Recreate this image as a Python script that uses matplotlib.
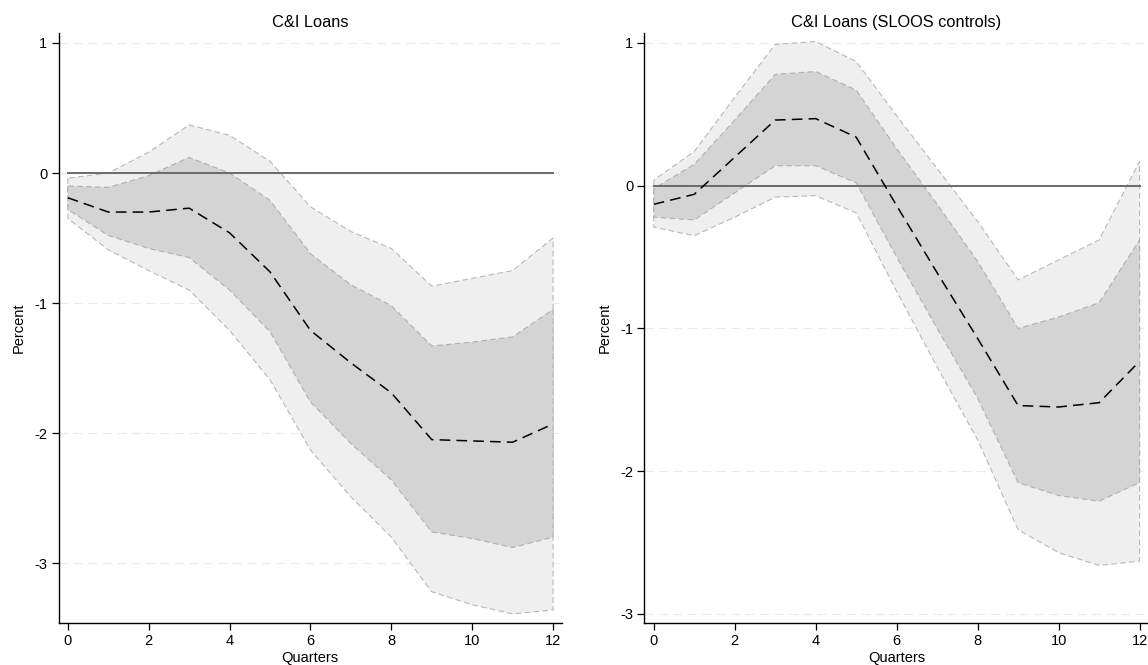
import matplotlib
matplotlib.use('Agg')
import matplotlib.pyplot as plt
import numpy as np

plt.rcParams['font.family'] = ['Liberation Sans', 'DejaVu Sans']
plt.rcParams['font.size'] = 10.5

#%% data
quarters = np.arange(13)

# C&I Loans
irf_l    = [-0.19, -0.30, -0.30, -0.27, -0.46, -0.76, -1.21, -1.46, -1.69, -2.05, -2.06, -2.07, -1.93]
in_hi_l  = [-0.10, -0.11, -0.02, 0.12, 0.00, -0.21, -0.62, -0.86, -1.02, -1.33, -1.30, -1.26, -1.05]
in_lo_l  = [-0.28, -0.48, -0.58, -0.65, -0.90, -1.22, -1.76, -2.08, -2.36, -2.76, -2.81, -2.88, -2.80]
out_hi_l = [-0.04, 0.00, 0.16, 0.37, 0.29, 0.09, -0.26, -0.45, -0.58, -0.87, -0.81, -0.75, -0.50]
out_lo_l = [-0.35, -0.59, -0.75, -0.90, -1.21, -1.59, -2.13, -2.49, -2.80, -3.22, -3.32, -3.39, -3.36]

# C&I Loans (SLOOS controls)
irf_r    = [-0.13, -0.06, 0.20, 0.46, 0.47, 0.34, -0.14, -0.61, -1.07, -1.54, -1.55, -1.52, -1.23]
in_hi_r  = [-0.02, 0.15, 0.46, 0.78, 0.80, 0.67, 0.26, -0.13, -0.53, -1.00, -0.92, -0.82, -0.38]
in_lo_r  = [-0.22, -0.24, -0.05, 0.14, 0.14, 0.02, -0.50, -1.00, -1.49, -2.08, -2.17, -2.21, -2.08]
out_hi_r = [0.04, 0.24, 0.62, 0.99, 1.01, 0.87, 0.49, 0.12, -0.25, -0.66, -0.52, -0.38, 0.17]
out_lo_r = [-0.29, -0.35, -0.22, -0.08, -0.07, -0.19, -0.74, -1.27, -1.78, -2.41, -2.57, -2.66, -2.63]

titles = ['C&I Loans', 'C&I Loans (SLOOS controls)']
yticks_l = [-3, -2, -1, 0, 1]
yticks_r = [-3, -2, -1, 0, 1]

fig = plt.figure(figsize=(11.48, 6.65), dpi=100)
ax1 = fig.add_axes([0.051, 0.0632, 0.4385, 0.8872])
ax2 = fig.add_axes([0.5614, 0.0632, 0.4390, 0.8872])


def irf_panel(ax, irf, in_lo, in_hi, out_lo, out_hi, title, yticks, ylim):
    ax.fill_between(quarters, out_lo, out_hi, facecolor='#efefef', edgecolor='#b8b8b8',
                    linestyle=(0, (5, 3)), linewidth=0.8, zorder=1)
    ax.fill_between(quarters, in_lo, in_hi, facecolor='#d4d4d4', edgecolor='#b0b0b0',
                    linestyle=(0, (5, 3)), linewidth=0.8, zorder=2)
    ax.plot([quarters[0], quarters[-1]], [0, 0], color='#6a6a6a', linewidth=1.4, zorder=3)
    ax.plot(quarters, irf, color='black', linestyle=(0, (7, 4)), linewidth=1.1, zorder=4)

    ax.set_xlim(-0.23, 12.22)
    ax.set_ylim(*ylim)
    ax.set_xticks(np.arange(0, 13, 2))
    ax.set_yticks(yticks)
    ax.set_yticklabels([str(t) for t in yticks])
    for t in yticks:
        ax.axhline(t, color='#ebebeb', linestyle=(0, (8, 5)), linewidth=0.8, zorder=0)
    ax.spines['top'].set_visible(False)
    ax.spines['right'].set_visible(False)
    ax.spines['left'].set_linewidth(1.0)
    ax.spines['bottom'].set_linewidth(1.0)
    ax.tick_params(direction='out', length=5, width=0.9, pad=3)
    ax.set_title(title, fontsize=11.8, pad=4)
    ax.set_xlabel('Quarters', labelpad=2)
    ax.set_ylabel('Percent', labelpad=6)


irf_panel(ax1, irf_l, in_lo_l, in_hi_l, out_lo_l, out_hi_l, titles[0], yticks_l, (-3.46, 1.077))
irf_panel(ax2, irf_r, in_lo_r, in_hi_r, out_lo_r, out_hi_r, titles[1], yticks_r, (-3.063, 1.07))

fig.savefig('out.png', dpi=100)
